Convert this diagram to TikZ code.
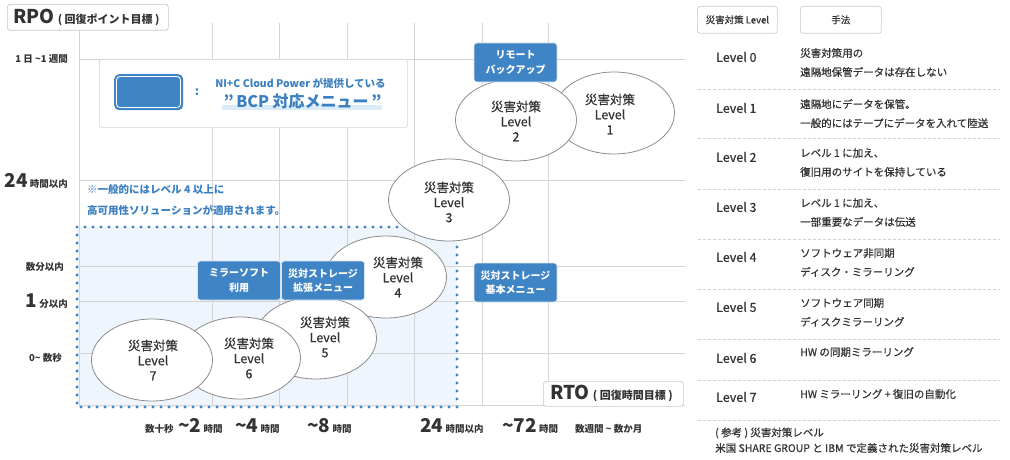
\documentclass[tikz,border=0pt]{standalone}
\usepackage{fontspec}
\setmainfont{Noto Sans CJK JP}[UprightFeatures={FakeBold=0.6}]
\usetikzlibrary{shapes.geometric}
\definecolor{ink}{HTML}{333333}
\definecolor{bluebox}{HTML}{3F84C5}
\definecolor{txtblue}{HTML}{3A7FC1}
\definecolor{zonefill}{HTML}{EEF5FC}
\definecolor{gridc}{HTML}{D4D4D4}
\definecolor{ellc}{HTML}{8C8C8C}
\definecolor{boxgray}{HTML}{C8C8C8}
\definecolor{sepc}{HTML}{CFCFCF}
\definecolor{hilite}{HTML}{DCEBF8}
\newcommand\fsz[2]{\fontsize{#1}{#2}\selectfont}
\begin{document}
\begin{tikzpicture}[x=1pt,y=-1pt,
  every node/.style={inner sep=0pt, text=ink},
  gridline/.style={draw=gridc, line width=0.8pt},
  lvl/.style={ellipse, draw=ellc, fill=white, line width=0.8pt, minimum width=121pt, minimum height=82pt},
  lvltext/.style={align=center, font=\fsz{12.5}{15}},
  bluebtn/.style={draw=white!80!bluebox, line width=0.6pt, fill=bluebox, rounded corners=3pt, minimum width=83pt, minimum height=39pt, align=center, text=white, font=\bfseries\fsz{10}{14.5}},
  hdrbox/.style={draw=boxgray, fill=white, rounded corners=3pt, line width=0.7pt},
  ylab/.style={anchor=east, font=\bfseries\fsz{9.5}{11}},
  xlab/.style={anchor=base west, font=\bfseries\fsz{9.5}{11}},
  lvlname/.style={anchor=west, font=\fsz{12.5}{14}},
  desc/.style={anchor=north west, align=left, font=\fsz{10.5}{19}},
  sep/.style={draw=sepc, line width=0.6pt, dash pattern=on 2.5pt off 2.5pt},
  note/.style={anchor=west, text=txtblue, font=\bfseries\fsz{10.5}{12}}
]
\useasboundingbox (0,0) rectangle (1010,460);

% zone fill
\fill[zonefill] (77,227) rectangle (457,407);

% grid
\foreach \x in {212,279,347,414,482,548} \draw[gridline] (\x,23) -- (\x,405);
\foreach \y in {59,180,266,301,353} \draw[gridline] (79,\y) -- (685,\y);
\draw[draw=gridc, line width=1pt] (79,30) -- (79,405) -- (685,405);

% dotted zone border
\draw[bluebox, line width=3.3pt, line cap=round, dash pattern=on 0pt off 8pt] (77,227) rectangle (457,407);

% RPO label
\node[hdrbox, anchor=north west, minimum width=161pt, minimum height=26pt] (rpobox) at (7,4) {};
\node[anchor=west] (rpo) at (13,17) {\bfseries\fsz{19}{20}RPO\,\fsz{11}{12}( 回復ポイント目標 )};

% RTO label
\node[hdrbox, anchor=north west, minimum width=140pt, minimum height=25pt] (rtobox) at (543,381) {};
\node[anchor=west] (rto) at (550,393.5) {\bfseries\fsz{19}{20}RTO\,\fsz{11}{12}( 回復時間目標 )};

% Y axis labels
\node[ylab] (y1) at (68,59) {1 日 \textasciitilde 1 週間};
\node[ylab] (y2) at (68,181) {{\fsz{19}{20}24} 時間以内};
\node[ylab] (y3) at (64,267) {数分以内};
\node[ylab] (y4) at (68,301) {{\fsz{19}{20}1} 分以内};
\node[ylab] (y5) at (62,358) {0\textasciitilde\ 数秒};

% X axis labels
\node[xlab] (x1) at (145,432) {数十秒};
\node[xlab] (x2) at (178,432) {{\fsz{19}{20}\textasciitilde 2} 時間};
\node[xlab] (x3) at (235,432) {{\fsz{19}{20}\textasciitilde 4} 時間};
\node[xlab] (x4) at (307,432) {{\fsz{19}{20}\textasciitilde 8} 時間};
\node[xlab] (x5) at (420,432) {{\fsz{19}{20}24} 時間以内};
\node[xlab] (x6) at (502,432) {{\fsz{19}{20}\textasciitilde 72} 時間};
\node[xlab] (x7) at (575,432) {数週間 \textasciitilde\ 数か月};

% BCP legend
\node[hdrbox, draw=gridc, rounded corners=2pt, anchor=north west, minimum width=308pt, minimum height=68pt] (bcp) at (99,59) {};
\node[fill=bluebox, rounded corners=5pt, anchor=north west, minimum width=69pt, minimum height=36pt] (legblue) at (114,74) {};
\draw[white, line width=0.8pt, rounded corners=3.5pt] (116.5,76.5) rectangle (180.5,107.5);
\node[text=txtblue, font=\bfseries\fsz{12}{12}] (colon) at (197,92) {:};
\fill[hilite] (222,105) rectangle (382,110);
\node[text=txtblue, font=\bfseries\fsz{10.5}{12}] (bcpl1) at (300.5,83) {NI+C Cloud Power が提供している};
\node[text=txtblue, font=\bfseries\fsz{16}{18}] (bcpl2) at (302.5,101) {”\,BCP 対応メニュー\,”};

% note
\node[note] (n1) at (87,190) {※一般的にはレベル 4 以上に};
\node[note] (n2) at (87,210) {高可用性ソリューションが適用されます。};

% ellipses
\node[lvl] (e1) at (614,113) {};
\node[lvltext] (t1) at (610,114) {災害対策\\Level\\1};
\node[lvl] (e2) at (516,120) {};
\node[lvltext] (t2) at (516,121) {災害対策\\Level\\2};
\node[lvl] (e3) at (449,200) {};
\node[lvltext] (t3) at (449,202) {災害対策\\Level\\3};
\node[lvl] (e4) at (386,277) {};
\node[lvltext] (t4) at (398,277) {災害対策\\Level\\4};
\node[lvl] (e5) at (316,338) {};
\node[lvltext] (t5) at (325,337) {災害対策\\Level\\5};
\node[lvl] (e6) at (240,358) {};
\node[lvltext] (t6) at (249,358) {災害対策\\Level\\6};
\node[lvl] (e7) at (152,360) {};
\node[lvltext] (t7) at (153,360) {災害対策\\Level\\7};

% blue buttons
\node[bluebtn] (remote) at (515.5,62.5) {リモート\\バックアップ};
\node[bluebtn] (mirror) at (239,280.5) {ミラーソフト\\利用};
\node[bluebtn] (ext) at (323,280.5) {災対ストレージ\\拡張メニュー};
\node[bluebtn] (basic) at (515.5,282.5) {災対ストレージ\\基本メニュー};

% right table header
\node[hdrbox, anchor=north west, minimum width=80pt, minimum height=27pt, font=\fsz{9.5}{11}] (h1) at (697,6) {災害対策 Level};
\node[hdrbox, anchor=north west, minimum width=81pt, minimum height=27pt, font=\fsz{9.5}{11}] (h2) at (800,6) {手法};

% rows
\node[lvlname] (l0) at (716,57) {Level 0};
\node[desc] (d0) at (800,48) {災害対策用の\\遠隔地保管データは存在しない};
\draw[sep] (698,89) -- (1000,89);
\node[lvlname] (l1) at (716,108) {Level 1};
\node[desc] (d1) at (800,99) {遠隔地にデータを保管。\\一般的にはテープにデータを入れて陸送};
\draw[sep] (698,138) -- (1000,138);
\node[lvlname] (l2) at (716,157) {Level 2};
\node[desc] (d2) at (800,148) {レベル 1 に加え、\\復旧用のサイトを保持している};
\draw[sep] (698,189) -- (1000,189);
\node[lvlname] (l3) at (716,207) {Level 3};
\node[desc] (d3) at (800,198) {レベル 1 に加え、\\一部重要なデータは伝送};
\draw[sep] (698,239) -- (1000,239);
\node[lvlname] (l4) at (716,257) {Level 4};
\node[desc] (d4) at (800,248) {ソフトウェア非同期\\ディスク・ミラーリング};
\draw[sep] (698,289) -- (1000,289);
\node[lvlname] (l5) at (716,307) {Level 5};
\node[desc] (d5) at (800,298) {ソフトウェア同期\\ディスクミラーリング};
\draw[sep] (698,339) -- (1000,339);
\node[lvlname] (l6) at (716,358) {Level 6};
\node[desc] (d6) at (800,347) {HW の同期ミラーリング};
\draw[sep] (698,380) -- (1000,380);
\node[lvlname] (l7) at (716,397) {Level 7};
\node[desc] (d7) at (800,389) {HW ミラーリング + 復旧の自動化};
\draw[sep] (698,420) -- (1000,420);

% footnote
\node[anchor=west, font=\fsz{10.5}{12}] (f1) at (715,433) {( 参考 ) 災害対策レベル};
\node[anchor=west, font=\fsz{10.5}{12}] (f2) at (715,448) {米国 SHARE GROUP と IBM で定義された災害対策レベル};
\end{tikzpicture}
\end{document}
